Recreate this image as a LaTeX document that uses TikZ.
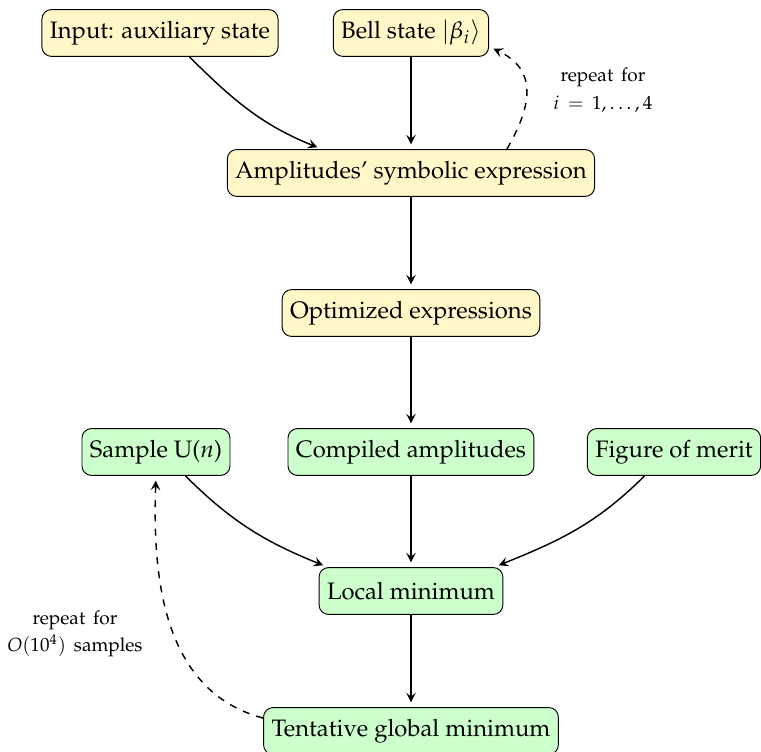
\documentclass[tikz,border=0pt]{standalone}
\usepackage[T1]{fontenc}
\usepackage{mathpazo}
\usetikzlibrary{arrows.meta}
\definecolor{stageyellow}{RGB}{255,247,199}
\definecolor{stagegreen}{RGB}{204,255,204}

\begin{document}
\begin{tikzpicture}[semithick,>={Stealth[length=4pt,width=4pt,inset=1.6pt]},
  stage/.style={draw,thin,rounded corners,minimum height=19.7pt,inner xsep=3.33pt},
  prep/.style={stage,fill=stageyellow},
  optim/.style={stage,fill=stagegreen},
  flow/.style={->,shorten >=2pt},
  loop/.style={flow,dashed},
  note/.style={font=\footnotesize,align=center}]
\useasboundingbox (0,0) rectangle (11.24,-11.107);
% symbolic part
\node[prep] (input) at (2.363,-0.487) {Input: auxiliary state};
\node[prep] (bell) at (6.070,-0.487) {Bell state $|\beta_i\rangle$};
\node[prep] (ampl) at (6.070,-2.555) {Amplitudes' symbolic expression};
\node[prep] (opt) at (6.070,-4.623) {Optimized expressions};
% numerical part
\node[optim] (sample) at (2.304,-6.676) {Sample U($n$)};
\node[optim] (compiled) at (6.070,-6.676) {Compiled amplitudes};
\node[optim] (merit) at (9.955,-6.676) {Figure of merit};
\node[optim] (local) at (6.070,-8.729) {Local minimum};
\node[optim] (global) at (6.070,-10.797) {Tentative global minimum};
\draw[flow] (input.-39) to[out=-45,in=158] (ampl.165);
\draw[flow] (bell) -- (ampl);
\draw[flow] (ampl) -- (opt);
\draw[flow] (opt) -- (compiled);
\draw[flow] (sample.-39) to[out=-45,in=158] (local.164);
\draw[flow] (compiled) -- (local);
\draw[flow] (merit.-141) to[out=-135,in=22] (local.16);
\draw[flow] (local) -- (global);
% loops
\draw[loop] (ampl.14) to[out=60,in=-25,looseness=1.3] (bell.-10);
\node[note] (bellnote) at (8.906,-1.329) {repeat\ \,for\\[2pt] $i\,=\,1,\dots,4$};
\draw[loop] (global.175) to[out=165,in=-92] (sample.south);
\node[note] (samplenote) at (1.108,-9.364) {repeat\ \,for\\[2pt] $O(10^4)$\ \,samples};
\end{tikzpicture}
\end{document}
